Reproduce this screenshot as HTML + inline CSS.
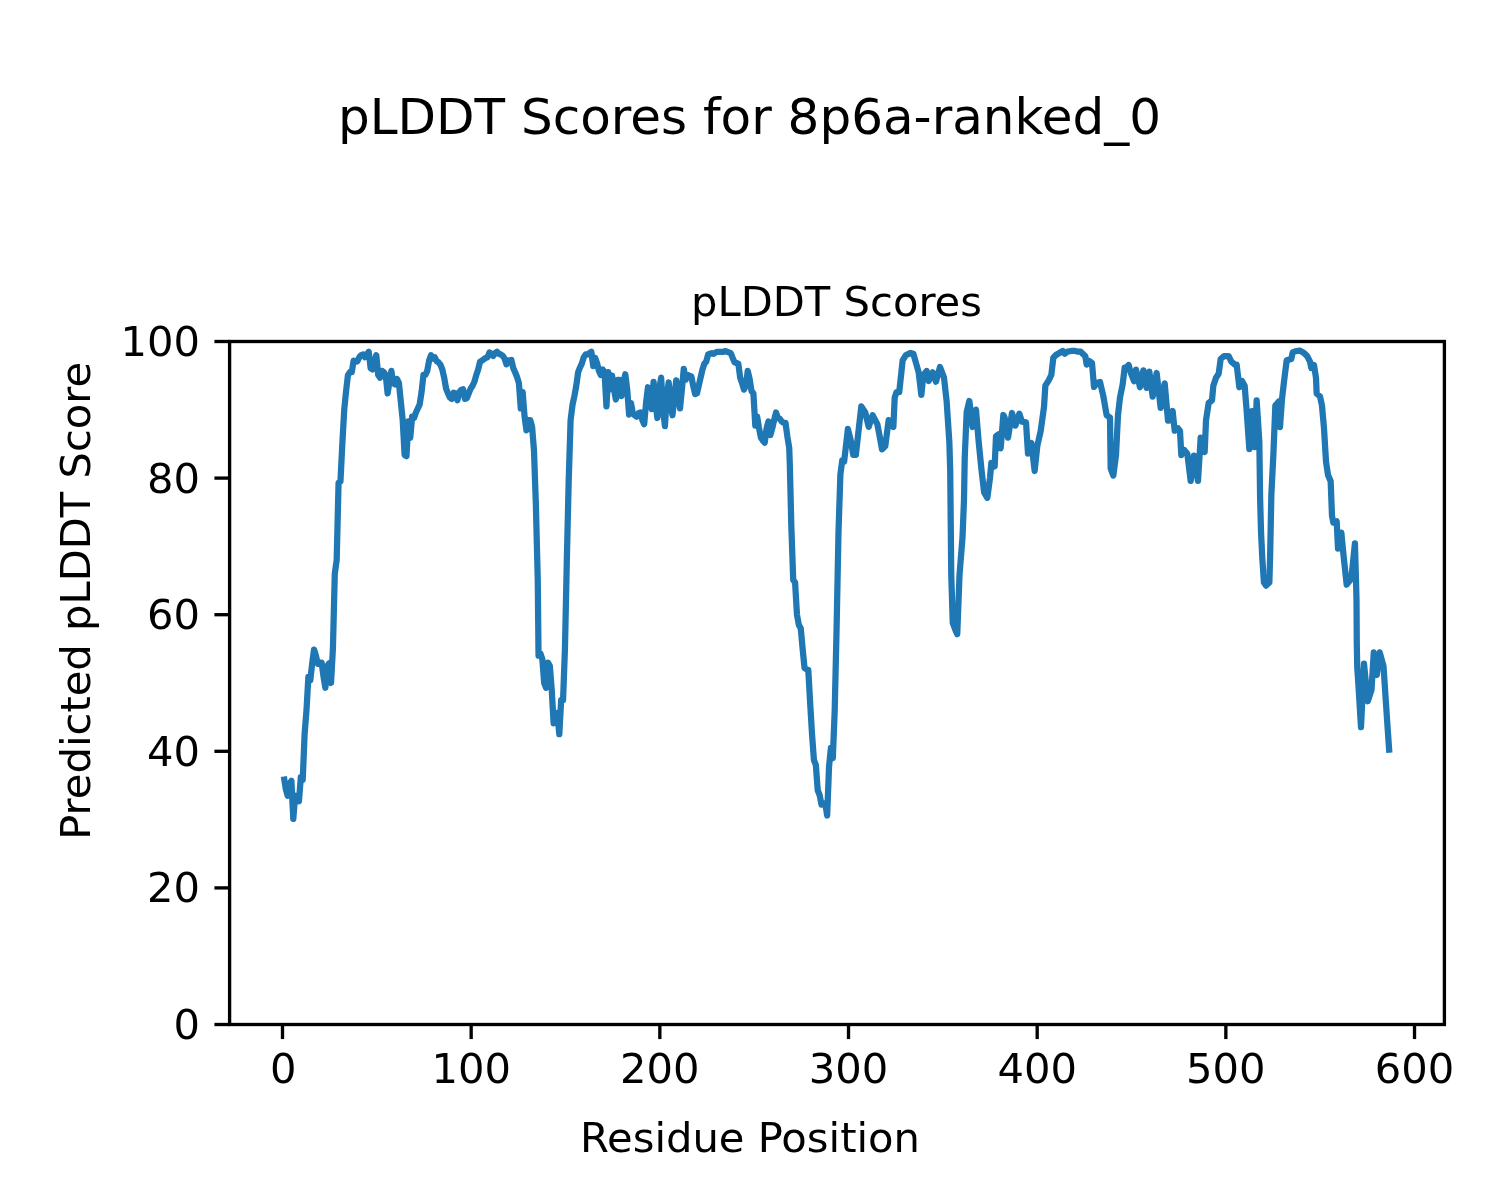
<!DOCTYPE html>
<html><head><meta charset="utf-8"><title>pLDDT Scores for 8p6a-ranked_0</title>
<style>html,body{margin:0;padding:0;background:#fff;width:1500px;height:1200px;overflow:hidden}svg{display:block;will-change:transform}</style>
</head><body>
<svg width="1500" height="1200" viewBox="0 0 1500 1200">
<rect x="0" y="0" width="1500" height="1200" fill="#ffffff"/>
<polyline points="283.85,776.57 285.74,788.87 287.62,795.69 289.51,784.08 291.40,780.67 293.28,818.92 295.17,795.69 297.06,799.11 298.94,801.16 300.83,777.25 302.72,779.99 304.60,734.23 306.49,710.32 308.37,676.85 310.26,680.27 312.15,663.88 314.03,649.53 315.92,655.68 317.81,663.88 319.69,662.51 321.58,662.51 323.47,676.17 325.35,687.78 327.24,665.92 329.13,663.19 331.01,683.00 332.90,648.85 334.79,573.72 336.67,560.06 338.56,482.88 340.45,481.51 342.33,443.95 344.22,409.80 346.10,391.02 347.99,374.97 349.88,372.24 351.76,372.24 353.65,360.62 355.54,361.65 357.42,361.31 359.31,357.21 361.20,355.16 363.08,354.48 364.97,357.21 366.86,354.48 368.74,351.75 370.63,368.14 372.52,369.50 374.40,361.99 376.29,355.16 378.18,374.97 380.06,377.70 381.95,370.87 383.83,372.24 385.72,374.97 387.61,393.41 389.49,381.80 391.38,370.87 393.27,383.16 395.15,384.53 397.04,379.06 398.93,383.16 400.81,401.60 402.70,420.04 404.59,454.88 406.47,456.24 408.36,421.41 410.25,437.80 412.13,416.63 414.02,418.00 415.91,412.53 417.79,408.43 419.68,404.34 421.56,392.04 423.45,374.97 425.34,374.97 427.22,370.87 429.11,360.62 431.00,355.16 432.88,358.58 434.77,357.21 436.66,361.31 438.54,362.33 440.43,364.72 442.32,369.50 444.20,377.70 446.09,388.63 447.98,393.41 449.86,397.51 451.75,398.87 453.63,392.73 455.52,393.41 457.41,400.24 459.29,392.04 461.18,389.99 463.07,389.31 464.95,398.87 466.84,398.19 468.73,393.41 470.61,388.63 472.50,385.89 474.39,381.80 476.27,374.97 478.16,369.50 480.05,361.65 481.93,360.62 483.82,359.26 485.71,357.89 487.59,357.21 489.48,352.43 491.37,353.79 493.25,355.84 495.14,353.11 497.02,351.75 498.91,353.79 500.80,354.48 502.68,355.84 504.57,358.58 506.46,364.38 508.34,360.62 511.36,359.94 513.25,368.14 515.13,372.24 517.02,377.02 518.91,383.16 520.79,408.43 522.68,392.04 524.57,416.63 526.45,430.29 528.34,420.04 530.23,420.04 532.11,426.88 534.00,450.78 535.89,505.42 537.77,580.55 538.53,655.68 540.41,653.63 542.30,659.10 544.19,683.00 546.07,687.78 547.96,662.51 549.85,665.92 551.73,689.83 553.62,723.30 555.51,720.57 557.39,713.05 559.28,734.23 561.17,700.08 563.05,700.08 564.94,648.85 566.83,560.06 568.71,480.15 570.60,420.04 572.48,405.02 574.37,396.14 576.26,385.89 578.14,372.24 580.03,367.45 581.92,363.36 583.80,357.21 585.69,354.48 587.58,354.48 589.46,353.11 591.35,351.75 593.24,366.09 595.12,357.89 597.01,363.01 598.90,370.87 600.78,374.97 602.67,369.50 604.56,372.24 606.44,406.38 608.33,372.24 610.21,389.31 612.10,375.65 613.99,389.31 615.87,399.55 617.76,379.75 619.65,379.75 621.53,396.14 623.42,382.48 625.31,374.28 627.19,389.31 629.08,414.58 630.97,402.97 632.85,413.22 634.74,415.26 636.63,416.63 638.51,413.22 640.40,412.53 642.29,420.04 644.17,424.14 646.06,402.97 647.94,387.26 649.83,396.14 651.72,409.12 653.60,381.80 655.49,402.97 657.38,418.00 659.26,389.31 661.15,377.70 663.04,409.80 664.92,426.19 666.81,396.14 668.70,382.48 670.58,402.97 672.47,415.26 674.36,396.14 676.24,380.43 678.13,396.14 680.02,408.43 681.90,389.31 683.79,368.82 685.67,379.75 687.56,374.97 689.45,375.65 691.33,376.33 693.22,385.89 695.11,394.09 696.99,393.41 702.46,369.50 704.35,363.70 706.24,361.65 708.12,354.48 710.01,353.79 711.90,353.11 713.78,353.79 715.67,352.43 717.56,351.75 719.44,351.75 721.33,351.75 723.22,351.75 725.10,351.06 726.99,351.75 728.88,352.43 730.76,353.11 732.65,357.89 734.53,362.33 736.42,363.01 738.31,363.70 740.19,377.70 742.08,383.16 743.97,389.65 745.85,385.89 747.74,370.87 749.63,379.06 751.51,391.02 753.40,393.41 755.29,425.51 757.17,416.63 759.06,428.24 760.95,437.80 762.83,440.53 764.72,442.58 766.61,428.24 768.49,421.41 770.38,435.07 772.26,428.24 774.15,420.04 776.04,412.53 777.92,418.00 779.81,418.68 781.70,421.41 783.58,422.78 785.47,422.78 787.36,436.44 789.24,448.05 789.81,464.44 791.32,525.91 793.21,579.87 795.09,582.60 796.98,614.70 798.86,624.94 800.75,628.36 802.64,648.85 804.52,667.97 806.41,669.34 808.30,670.02 810.18,703.49 812.07,734.91 813.96,760.18 815.84,764.96 817.73,790.23 819.62,795.01 821.50,804.57 823.39,803.89 825.28,803.21 827.16,815.50 829.05,766.33 830.94,747.88 832.82,758.13 834.71,710.32 836.59,628.36 838.48,532.74 840.37,474.68 842.25,460.34 844.14,461.71 847.91,428.92 851.12,441.90 853.20,454.88 855.84,454.88 861.31,406.38 865.27,412.53 868.67,426.88 872.63,415.26 877.34,424.14 879.42,435.07 882.06,449.41 885.27,446.00 888.66,420.04 893.38,426.88 894.70,397.51 896.59,392.04 899.23,392.04 902.66,360.35 906.00,355.02 910.66,352.97 913.34,353.66 916.00,363.01 918.66,372.30 921.34,394.98 923.34,374.97 926.67,371.01 928.67,380.98 932.67,372.30 935.99,381.66 939.99,366.98 943.99,377.70 946.67,401.67 949.33,441.70 950.20,469.97 951.26,575.02 952.75,622.96 954.99,628.97 957.26,634.23 959.50,575.02 962.50,537.52 963.99,500.02 964.74,457.61 966.67,412.33 969.33,400.99 972.67,427.01 976.01,409.66 978.67,441.70 981.33,468.33 984.12,492.44 987.33,497.77 989.97,478.10 991.33,463.01 994.66,466.35 996.00,436.30 998.66,434.32 1000.66,448.32 1003.34,414.99 1004.66,417.65 1008.00,437.67 1012.00,413.01 1015.34,425.65 1019.34,413.69 1022.00,421.68 1026.00,422.37 1028.00,453.65 1031.34,442.99 1034.66,471.00 1037.34,445.66 1040.68,430.97 1044.00,407.00 1045.34,385.69 1048.67,380.36 1051.33,374.97 1053.33,357.69 1055.99,355.02 1059.33,352.97 1062.67,350.99 1064.67,353.66 1067.33,351.68 1071.33,350.99 1075.33,350.99 1077.99,351.68 1080.67,351.68 1085.33,356.32 1086.67,364.59 1089.33,361.03 1092.01,363.01 1094.01,386.99 1096.67,383.03 1100.01,381.93 1103.33,396.14 1106.67,415.26 1110.00,417.65 1110.67,468.33 1113.33,475.64 1116.00,455.01 1118.00,414.99 1120.00,397.64 1122.66,384.32 1124.66,367.66 1126.00,368.34 1128.66,365.00 1130.66,372.30 1134.00,381.25 1136.00,369.64 1140.00,387.26 1143.34,370.32 1146.66,387.94 1149.34,371.69 1152.66,396.62 1156.66,372.99 1160.66,407.96 1164.68,383.37 1168.00,420.59 1170.00,420.32 1172.67,411.03 1174.67,430.70 1177.99,428.31 1179.99,430.97 1181.33,455.01 1183.99,449.69 1187.33,453.65 1190.67,480.97 1193.99,455.70 1197.99,480.97 1200.67,437.67 1204.67,452.08 1206.01,420.32 1208.67,402.97 1212.01,400.31 1213.33,385.69 1216.01,377.70 1218.67,373.67 1220.67,358.98 1224.01,356.05 1228.67,356.05 1231.33,361.65 1235.33,365.00 1236.66,364.59 1239.32,387.26 1242.00,380.98 1244.66,385.69 1246.66,411.03 1249.34,449.00 1252.00,411.03 1254.66,447.02 1256.66,400.31 1259.34,441.70 1260.11,498.59 1261.06,532.74 1262.32,558.69 1263.94,582.53 1266.11,585.60 1269.36,582.53 1270.11,556.58 1270.98,513.27 1271.34,494.97 1273.34,455.01 1275.34,405.63 1278.66,401.67 1280.00,427.01 1282.00,399.01 1284.00,381.66 1286.68,360.35 1291.34,358.98 1292.67,352.36 1295.33,351.27 1299.99,350.58 1303.99,352.97 1307.33,356.32 1309.99,361.65 1311.33,368.07 1313.99,365.00 1315.99,377.70 1316.67,393.68 1319.99,396.34 1321.99,405.63 1323.99,428.31 1326.01,461.64 1328.01,475.03 1330.67,481.31 1332.01,516.01 1333.33,522.70 1336.67,521.33 1338.01,548.65 1341.33,532.67 1343.33,553.37 1346.67,584.65 1351.33,578.64 1354.93,543.33 1356.00,580.00 1356.50,600.02 1356.80,645.03 1357.25,667.50 1358.74,689.97 1361.00,727.19 1364.00,663.74 1367.76,701.24 1371.49,689.97 1373.76,652.47 1376.76,675.01 1379.76,652.47 1383.49,665.99 1385.57,697.34 1387.45,725.35 1389.34,752.67" fill="none" stroke="#1f77b4" stroke-width="6.25" stroke-linejoin="round" stroke-linecap="butt"/>
<rect x="229.6" y="341.5" width="1214.80" height="683.00" fill="none" stroke="#000" stroke-width="3.33" stroke-linejoin="miter" stroke-linecap="square"/>
<line x1="214.42" y1="1024.50" x2="229.60" y2="1024.50" stroke="#000" stroke-width="3.33"/>
<text x="199.9" y="1039.00" text-anchor="end" style="font-family:'DejaVu Sans','Liberation Sans',sans-serif;font-size:41.67px">0</text>
<line x1="214.42" y1="887.90" x2="229.60" y2="887.90" stroke="#000" stroke-width="3.33"/>
<text x="199.9" y="902.40" text-anchor="end" style="font-family:'DejaVu Sans','Liberation Sans',sans-serif;font-size:41.67px">20</text>
<line x1="214.42" y1="751.30" x2="229.60" y2="751.30" stroke="#000" stroke-width="3.33"/>
<text x="199.9" y="765.80" text-anchor="end" style="font-family:'DejaVu Sans','Liberation Sans',sans-serif;font-size:41.67px">40</text>
<line x1="214.42" y1="614.70" x2="229.60" y2="614.70" stroke="#000" stroke-width="3.33"/>
<text x="199.9" y="629.20" text-anchor="end" style="font-family:'DejaVu Sans','Liberation Sans',sans-serif;font-size:41.67px">60</text>
<line x1="214.42" y1="478.10" x2="229.60" y2="478.10" stroke="#000" stroke-width="3.33"/>
<text x="199.9" y="492.60" text-anchor="end" style="font-family:'DejaVu Sans','Liberation Sans',sans-serif;font-size:41.67px">80</text>
<line x1="214.42" y1="341.50" x2="229.60" y2="341.50" stroke="#000" stroke-width="3.33"/>
<text x="199.9" y="356.00" text-anchor="end" style="font-family:'DejaVu Sans','Liberation Sans',sans-serif;font-size:41.67px">100</text>
<line x1="282.50" y1="1024.50" x2="282.50" y2="1039.08" stroke="#000" stroke-width="3.33"/>
<text x="283.30" y="1082.5" text-anchor="middle" style="font-family:'DejaVu Sans','Liberation Sans',sans-serif;font-size:41.67px">0</text>
<line x1="471.17" y1="1024.50" x2="471.17" y2="1039.08" stroke="#000" stroke-width="3.33"/>
<text x="471.17" y="1082.5" text-anchor="middle" style="font-family:'DejaVu Sans','Liberation Sans',sans-serif;font-size:41.67px">100</text>
<line x1="659.84" y1="1024.50" x2="659.84" y2="1039.08" stroke="#000" stroke-width="3.33"/>
<text x="659.84" y="1082.5" text-anchor="middle" style="font-family:'DejaVu Sans','Liberation Sans',sans-serif;font-size:41.67px">200</text>
<line x1="848.51" y1="1024.50" x2="848.51" y2="1039.08" stroke="#000" stroke-width="3.33"/>
<text x="848.51" y="1082.5" text-anchor="middle" style="font-family:'DejaVu Sans','Liberation Sans',sans-serif;font-size:41.67px">300</text>
<line x1="1037.18" y1="1024.50" x2="1037.18" y2="1039.08" stroke="#000" stroke-width="3.33"/>
<text x="1037.18" y="1082.5" text-anchor="middle" style="font-family:'DejaVu Sans','Liberation Sans',sans-serif;font-size:41.67px">400</text>
<line x1="1225.85" y1="1024.50" x2="1225.85" y2="1039.08" stroke="#000" stroke-width="3.33"/>
<text x="1225.85" y="1082.5" text-anchor="middle" style="font-family:'DejaVu Sans','Liberation Sans',sans-serif;font-size:41.67px">500</text>
<line x1="1414.52" y1="1024.50" x2="1414.52" y2="1039.08" stroke="#000" stroke-width="3.33"/>
<text x="1414.52" y="1082.5" text-anchor="middle" style="font-family:'DejaVu Sans','Liberation Sans',sans-serif;font-size:41.67px">600</text>
<text x="749.5" y="134" text-anchor="middle" style="font-family:'DejaVu Sans','Liberation Sans',sans-serif;font-size:50px">pLDDT Scores for 8p6a-ranked_0</text>
<text x="836.5" y="316" text-anchor="middle" style="font-family:'DejaVu Sans','Liberation Sans',sans-serif;font-size:41.67px">pLDDT Scores</text>
<text x="750" y="1152" text-anchor="middle" style="font-family:'DejaVu Sans','Liberation Sans',sans-serif;font-size:41.67px">Residue Position</text>
<text x="0" y="0" transform="translate(90,600.8) rotate(-90)" text-anchor="middle" style="font-family:'DejaVu Sans','Liberation Sans',sans-serif;font-size:41.67px">Predicted pLDDT Score</text>
</svg>
</body></html>
